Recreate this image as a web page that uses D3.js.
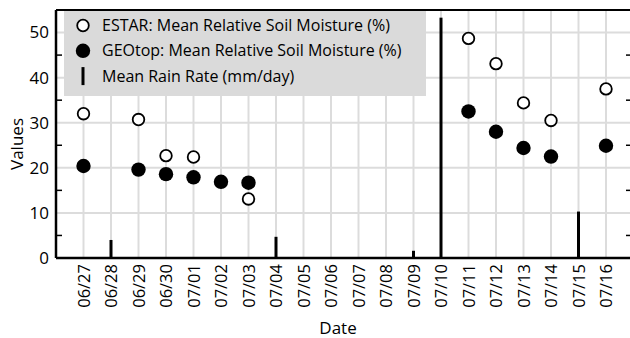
<!DOCTYPE html>
<html>
<head>
<meta charset="utf-8">
<script src="https://cdn.jsdelivr.net/npm/d3@7"></script>
<style>
  body { margin: 0; background: #fff; }
  svg { font-family: "Open Sans", sans-serif; }
</style>
</head>
<body>
<svg id="chart" width="630" height="338"></svg>
<script>
// dates shown on the x axis
const dates = ["06/27", "06/28", "06/29", "06/30", "07/01", "07/02", "07/03", "07/04", "07/05", "07/06",
  "07/07", "07/08", "07/09", "07/10", "07/11", "07/12", "07/13", "07/14", "07/15", "07/16"];

// ESTAR mean relative soil moisture (open circles), null = no data
const estar = [32.0, null, 30.7, 22.7, 22.4, null, 13.1, null, null, null,
  null, null, null, null, 48.7, 43.1, 34.4, 30.5, null, 37.5];

// GEOtop mean relative soil moisture (filled circles)
const geotop = [20.4, null, 19.6, 18.6, 17.9, 16.9, 16.7, null, null, null,
  null, null, null, null, 32.5, 28.0, 24.4, 22.5, null, 24.9];

// mean rain rate, mm/day
const rain = [0, 4.0, 0, 0, 0, 0, 0, 4.7, 0, 0,
  0, 0, 1.6, 53.3, 0, 0, 0, 0, 10.3, 0];

const yMajor = [0, 10, 20, 30, 40, 50];
const yMinor = [5, 15, 25, 35, 45];

const svg = d3.select("#chart");
const mLeft = 56, mTop = 10, mBottom = 258;

// one step of padding on each side, the right one runs off the canvas
const x = d3.scaleLinear().domain([-1, dates.length]).range([mLeft, mLeft + 27.5 * (dates.length + 1)]);
const y = d3.scaleLinear().domain([0, 55]).range([mBottom, mTop]);

// grid
const grid = svg.append("g").attr("stroke", "#dcdcdc").attr("stroke-width", 2);
grid.selectAll(".vg").data(dates).join("line")
  .attr("x1", (d, i) => x(i)).attr("x2", (d, i) => x(i))
  .attr("y1", mTop).attr("y2", mBottom);
grid.selectAll(".hg").data(yMajor.filter(v => v > 0)).join("line")
  .attr("x1", mLeft).attr("x2", 630)
  .attr("y1", d => y(d)).attr("y2", d => y(d));

// minor ticks, pointing inward on both sides
const minor = svg.append("g").attr("stroke", "#000").attr("stroke-width", 1.5);
minor.selectAll(".ml").data(yMinor).join("line")
  .attr("x1", mLeft).attr("x2", mLeft + 6)
  .attr("y1", d => y(d)).attr("y2", d => y(d));
minor.selectAll(".mr").data(yMinor).join("line")
  .attr("x1", 626).attr("x2", 632)
  .attr("y1", d => y(d)).attr("y2", d => y(d));

// rain bars
svg.append("g").selectAll("line").data(rain.map((v, i) => [i, v]).filter(d => d[1] > 0)).join("line")
  .attr("x1", d => x(d[0])).attr("x2", d => x(d[0]))
  .attr("y1", y(0)).attr("y2", d => y(d[1]))
  .attr("stroke", "#000").attr("stroke-width", 3);

// soil moisture markers
svg.append("g").selectAll("circle").data(geotop.map((v, i) => [i, v]).filter(d => d[1] !== null)).join("circle")
  .attr("cx", d => x(d[0])).attr("cy", d => y(d[1])).attr("r", 7.2)
  .attr("fill", "#000");
svg.append("g").selectAll("circle").data(estar.map((v, i) => [i, v]).filter(d => d[1] !== null)).join("circle")
  .attr("cx", d => x(d[0])).attr("cy", d => y(d[1])).attr("r", 5.8)
  .attr("fill", "#fff").attr("stroke", "#000").attr("stroke-width", 1.8);

// frame
svg.append("line").attr("x1", mLeft).attr("x2", 630).attr("y1", mTop).attr("y2", mTop)
  .attr("stroke", "#000").attr("stroke-width", 2);

// axes
const yAxis = svg.append("g").attr("transform", `translate(${mLeft},0)`)
  .call(d3.axisLeft(y).tickValues(yMajor).tickSize(0).tickPadding(7));
yAxis.select(".domain").attr("stroke-width", 2.5).attr("d", `M0,${mTop}V${mBottom}`);
yAxis.selectAll("text").attr("font-size", 17).attr("font-family", "Open Sans").attr("fill", "#000");

const xAxis = svg.append("g").attr("transform", `translate(0,${mBottom})`)
  .call(d3.axisBottom(x).tickValues(d3.range(dates.length)).tickFormat(i => dates[i]).tickSize(0));
xAxis.select(".domain").attr("stroke-width", 2.5).attr("d", `M${mLeft},0H632`);
xAxis.selectAll("text")
  .attr("font-size", 16.5).attr("font-family", "Open Sans").attr("fill", "#000")
  .attr("transform", "rotate(-90)")
  .attr("text-anchor", "end")
  .attr("x", -6).attr("y", 0).attr("dy", "0.35em");

// axis titles
svg.append("text").attr("x", 338).attr("y", 334).attr("text-anchor", "middle")
  .attr("font-size", 17).text("Date");
svg.append("text").attr("transform", "translate(23,144) rotate(-90)").attr("text-anchor", "middle")
  .attr("font-size", 17).text("Values");

// legend
const lg = svg.append("g");
lg.append("rect").attr("x", 64).attr("y", 11).attr("width", 362).attr("height", 85).attr("fill", "#dadada");
const items = ["ESTAR: Mean Relative Soil Moisture (%)", "GEOtop: Mean Relative Soil Moisture (%)", "Mean Rain Rate (mm/day)"];
items.forEach((t, i) => {
  const cy = 25.5 + i * 25.3;
  if (i === 0) lg.append("circle").attr("cx", 83).attr("cy", cy).attr("r", 5.8)
    .attr("fill", "#fff").attr("stroke", "#000").attr("stroke-width", 1.8);
  if (i === 1) lg.append("circle").attr("cx", 83).attr("cy", cy).attr("r", 7.2).attr("fill", "#000");
  if (i === 2) lg.append("line").attr("x1", 83).attr("x2", 83).attr("y1", cy - 9).attr("y2", cy + 9)
    .attr("stroke", "#000").attr("stroke-width", 3);
  lg.append("text").attr("x", 102).attr("y", cy).attr("dy", "0.35em").attr("font-size", 16).text(t);
});
</script>
</body>
</html>
